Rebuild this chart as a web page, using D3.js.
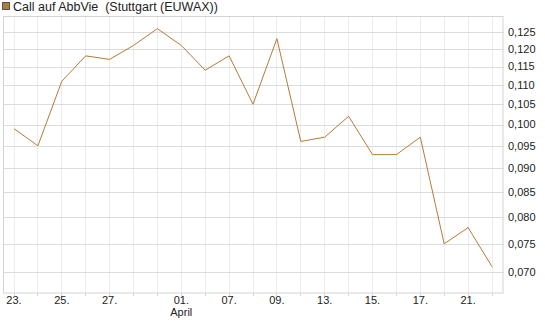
<!DOCTYPE html>
<html>
<head>
<meta charset="utf-8">
<script src="https://cdn.jsdelivr.net/npm/d3@7"></script>
<style>
  body { margin: 0; background: #fff; }
  svg { display: block; font-family: "Liberation Sans", Arial, sans-serif; }
</style>
</head>
<body>
<div id="chart"></div>
<script>
// trading days (one gridline per day)
const dates = ["23.03", "24.03", "25.03", "26.03", "27.03", "30.03", "31.03",
  "01.04", "06.04", "07.04", "08.04", "09.04", "10.04", "13.04", "14.04",
  "15.04", "16.04", "17.04", "20.04", "21.04", "22.04"];
const prices = [0.099, 0.095, 0.111, 0.118, 0.117, 0.121, 0.126, 0.121, 0.114,
  0.118, 0.105, 0.123, 0.096, 0.097, 0.102, 0.093, 0.093, 0.097, 0.075, 0.078, 0.071];
// which days get a label on the x axis
const xLabels = {"23.03": "23.", "25.03": "25.", "27.03": "27.", "01.04": "01.",
  "07.04": "07.", "09.04": "09.", "13.04": "13.", "15.04": "15.", "17.04": "17.", "21.04": "21."};
const monthLabels = {"01.04": "April"};
const yTicks = [0.070, 0.075, 0.080, 0.085, 0.090, 0.095, 0.100, 0.105, 0.110, 0.115, 0.120, 0.125];
const title = "Call auf AbbVie\u00a0\u00a0(Stuttgart (EUWAX))";

const width = 545, height = 327;
const plot = { left: 3, right: 503.5, top: 16, bottom: 293.5 };
const lineColor = "#b27c38";

const svg = d3.select("#chart").append("svg")
    .attr("width", width)
    .attr("height", height);

const x = d3.scalePoint()
    .domain(dates)
    .range([14, 492]);

const y = d3.scaleLog()
    .domain([0.06654, 0.1299])
    .range([plot.bottom, plot.top]);

// vertical gridlines
svg.append("g")
    .selectAll("line")
    .data(dates)
    .join("line")
    .attr("x1", d => x(d)).attr("x2", d => x(d))
    .attr("y1", plot.top).attr("y2", plot.bottom)
    .attr("stroke", "#ededed")
    .attr("shape-rendering", "crispEdges");

// horizontal gridlines
svg.append("g")
    .selectAll("line")
    .data(yTicks)
    .join("line")
    .attr("x1", plot.left).attr("x2", plot.right)
    .attr("y1", d => Math.round(y(d)) + 0.5).attr("y2", d => Math.round(y(d)) + 0.5)
    .attr("stroke", "#dcdcdc");

// frame
svg.append("rect")
    .attr("x", plot.left + 0.5)
    .attr("y", plot.top + 0.5)
    .attr("width", plot.right - plot.left - 1)
    .attr("height", plot.bottom - plot.top - 1)
    .attr("fill", "none")
    .attr("stroke", "#d4d4d4");

// x axis ticks
svg.append("g")
    .selectAll("line")
    .data(dates)
    .join("line")
    .attr("x1", d => x(d)).attr("x2", d => x(d))
    .attr("y1", plot.bottom).attr("y2", plot.bottom + 2)
    .attr("stroke", "#d4d4d4")
    .attr("shape-rendering", "crispEdges");

svg.append("g")
    .selectAll("text")
    .data(dates.filter(d => xLabels[d]))
    .join("text")
    .attr("x", d => x(d))
    .attr("y", 304)
    .attr("text-anchor", "middle")
    .attr("font-size", 11)
    .attr("fill", "#222")
    .text(d => xLabels[d]);

svg.append("g")
    .selectAll("text")
    .data(dates.filter(d => monthLabels[d]))
    .join("text")
    .attr("x", d => x(d))
    .attr("y", 316)
    .attr("text-anchor", "middle")
    .attr("font-size", 11)
    .attr("fill", "#222")
    .text(d => monthLabels[d]);

// y axis labels (right side)
const fmt = d => d.toFixed(3).replace(".", ",");
svg.append("g")
    .selectAll("text")
    .data(yTicks)
    .join("text")
    .attr("x", 508)
    .attr("y", d => y(d))
    .attr("dy", "0.35em")
    .attr("font-size", 11)
    .attr("fill", "#222")
    .text(fmt);

// price line
const line = d3.line()
    .x((d, i) => x(dates[i]))
    .y(d => y(d));

svg.append("path")
    .datum(prices)
    .attr("d", line)
    .attr("fill", "none")
    .attr("stroke", lineColor)
    .attr("stroke-width", 1);

// legend
svg.append("rect")
    .attr("x", 2.5).attr("y", 2.5)
    .attr("width", 7).attr("height", 7)
    .attr("fill", lineColor)
    .attr("stroke", "#555");

svg.append("text")
    .attr("x", 13)
    .attr("y", 11)
    .attr("font-size", 12.5)
    .attr("fill", "#222")
    .text(title);
</script>
</body>
</html>
